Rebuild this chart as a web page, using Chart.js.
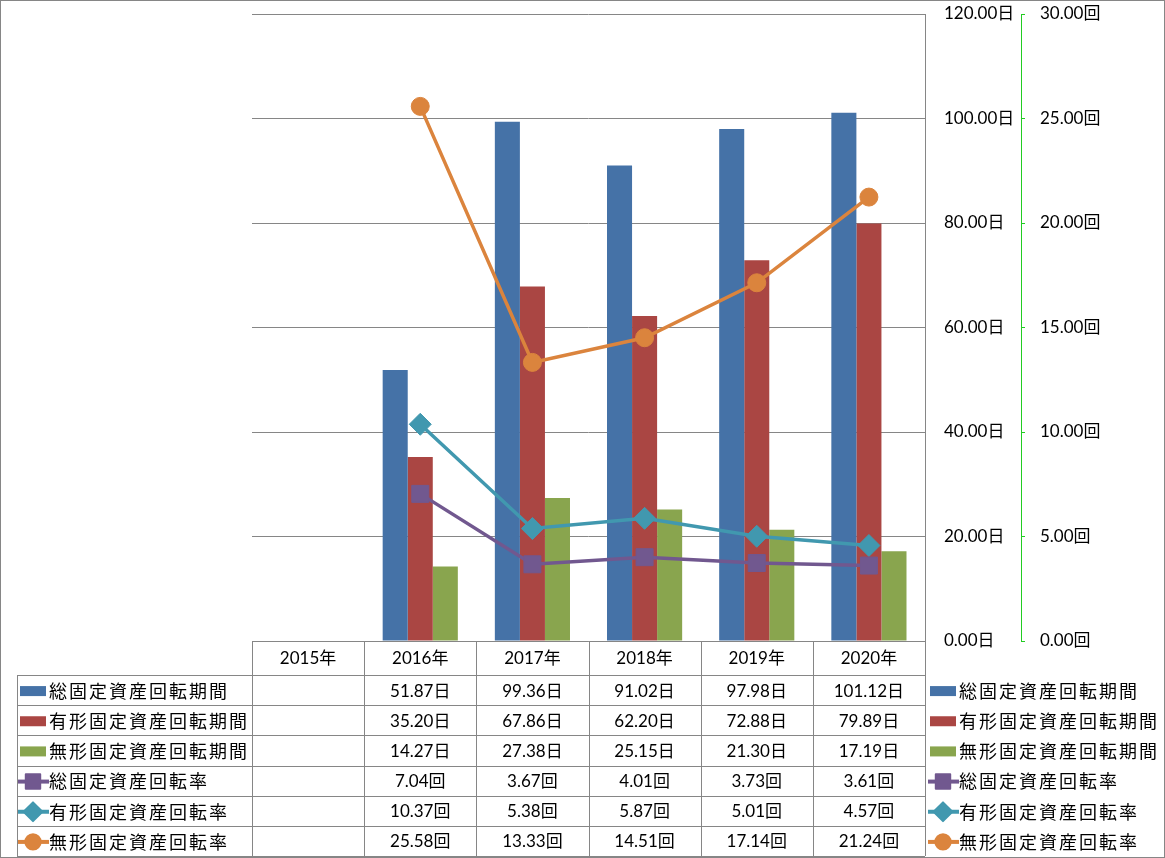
<!DOCTYPE html>
<html>
<head>
<meta charset="utf-8">
<script src="https://cdn.jsdelivr.net/npm/chart.js@4/dist/chart.umd.min.js"></script>
<style>
  html, body { margin: 0; padding: 0; background: #fff; }
  canvas { display: block; }
</style>
</head>
<body>
<canvas id="chart" width="1165" height="858"></canvas>
<script>
// データ
const years = ["2015年", "2016年", "2017年", "2018年", "2019年", "2020年"];
const totalPeriod = [null, 51.87, 99.36, 91.02, 97.98, 101.12];
const tangiblePeriod = [null, 35.2, 67.86, 62.2, 72.88, 79.89];
const intangiblePeriod = [null, 14.27, 27.38, 25.15, 21.3, 17.19];
const totalTurnover = [null, 7.04, 3.67, 4.01, 3.73, 3.61];
const tangibleTurnover = [null, 10.37, 5.38, 5.87, 5.01, 4.57];
const intangibleTurnover = [null, 25.58, 13.33, 14.51, 17.14, 21.24];
const periodTicks = [0, 20, 40, 60, 80, 100, 120];
const turnoverTicks = [0, 5, 10, 15, 20, 25, 30];

const FONT = "Lato, 'Noto Sans CJK JP', sans-serif";
const JP_FONT = "'Noto Sans CJK JP', sans-serif";
const GRID = "#868686";

const series = [
  { label: "総固定資産回転期間", data: totalPeriod, color: "#4572A7", unit: "日", kind: "bar" },
  { label: "有形固定資産回転期間", data: tangiblePeriod, color: "#AA4643", unit: "日", kind: "bar" },
  { label: "無形固定資産回転期間", data: intangiblePeriod, color: "#89A54E", unit: "日", kind: "bar" },
  { label: "総固定資産回転率", data: totalTurnover, color: "#71588F", unit: "回", kind: "line", point: "rect", radius: 12 },
  { label: "有形固定資産回転率", data: tangibleTurnover, color: "#4198AF", unit: "回", kind: "line", point: "rectRot", radius: 11 },
  { label: "無形固定資産回転率", data: intangibleTurnover, color: "#DB843D", unit: "回", kind: "line", point: "circle", radius: 9 },
];

function drawKey(ctx, s, x, y) {
  ctx.save();
  if (s.kind === "bar") {
    ctx.fillStyle = s.color;
    ctx.fillRect(x, y - 5, 26, 10);
  } else {
    ctx.strokeStyle = s.color;
    ctx.lineWidth = 4;
    ctx.beginPath();
    ctx.moveTo(x - 2, y);
    ctx.lineTo(x + 29, y);
    ctx.stroke();
    ctx.fillStyle = s.color;
    ctx.lineJoin = "round";
    ctx.lineWidth = 2;
    Chart.helpers.drawPoint(ctx, { pointStyle: s.point, radius: s.radius * 0.85, borderWidth: 2, rotation: 0 }, x + 13, y);
    ctx.fill();
  }
  ctx.restore();
}

// 表（データテーブル）
const dataTablePlugin = {
  id: "dataTable",
  afterDraw(chart) {
    const ctx = chart.ctx;
    const xs = chart.scales.x;
    const area = chart.chartArea;
    const n = years.length;
    const colW = (xs.right - xs.left) / n;
    const headTop = area.bottom;
    const headBottom = headTop + 34;
    const tableBottom = 856;
    const rowH = (tableBottom - headBottom) / series.length;
    const legendLeft = 17;

    ctx.save();
    ctx.strokeStyle = GRID;
    ctx.lineWidth = 1;
    ctx.beginPath();
    // ヘッダー
    ctx.moveTo(xs.left, headTop + 0.5);
    ctx.lineTo(xs.right, headTop + 0.5);
    for (let i = 0; i <= n; i++) {
      const x = Math.round(xs.left + i * colW) + 0.5;
      ctx.moveTo(x, headTop);
      ctx.lineTo(x, tableBottom);
    }
    for (let r = 0; r <= series.length; r++) {
      const y = Math.round(headBottom + r * rowH) + 0.5;
      ctx.moveTo(legendLeft, y);
      ctx.lineTo(xs.right, y);
    }
    ctx.moveTo(legendLeft + 0.5, headBottom);
    ctx.lineTo(legendLeft + 0.5, tableBottom);
    ctx.stroke();

    ctx.fillStyle = "#000";
    ctx.textBaseline = "middle";
    ctx.textAlign = "center";
    ctx.font = "17px " + FONT;
    years.forEach((yr, i) => {
      ctx.fillText(yr, xs.getPixelForValue(i), (headTop + headBottom) / 2 + 1);
    });

    series.forEach((s, r) => {
      const cy = headBottom + (r + 0.5) * rowH + 1;
      ctx.textAlign = "center";
      ctx.letterSpacing = "0px";
      ctx.font = "17px " + FONT;
      s.data.forEach((v, i) => {
        if (v === null) return;
        ctx.fillText(v.toFixed(2) + s.unit, xs.getPixelForValue(i), cy);
      });
      // 表内の凡例
      drawKey(ctx, s, 20, cy);
      ctx.textAlign = "left";
      ctx.font = "18px " + JP_FONT;
      ctx.letterSpacing = "2px";
      ctx.fillText(s.label, 49, cy);
      // 右側の凡例
      drawKey(ctx, s, 930, cy);
      ctx.fillText(s.label, 959, cy);
    });
    ctx.letterSpacing = "0px";

    // 外枠
    ctx.strokeStyle = GRID;
    ctx.strokeRect(0.5, 0.5, chart.width - 1, chart.height - 1);
    ctx.restore();
  },
};

const datasets = series.map((s) => {
  if (s.kind === "bar") {
    return {
      type: "bar",
      label: s.label,
      data: s.data,
      backgroundColor: s.color,
      yAxisID: "y",
      order: 2,
      categoryPercentage: 0.67,
      barPercentage: 1.0,
    };
  }
  return {
    type: "line",
    label: s.label,
    data: s.data,
    borderColor: s.color,
    backgroundColor: s.color,
    borderWidth: 3.5,
    pointStyle: s.point,
    pointRadius: s.radius,
    pointBorderWidth: 1,
    yAxisID: "y1",
    order: 1,
  };
});

function fixAxis(width) {
  return (axis) => {
    axis.width = width;
    axis.paddingTop = 0;
    axis.paddingBottom = 0;
  };
}

new Chart(document.getElementById("chart").getContext("2d"), {
  data: { labels: years, datasets: datasets },
  plugins: [dataTablePlugin],
  options: {
    responsive: false,
    animation: false,
    layout: { padding: { left: 252, top: 14, right: 0, bottom: 217 } },
    plugins: { legend: { display: false }, tooltip: { enabled: false } },
    scales: {
      x: {
        display: true,
        afterFit: (axis) => {
          axis.height = 0;
          axis.paddingLeft = 0;
          axis.paddingRight = 0;
        },
        grid: { display: false },
        border: { display: false },
        ticks: { display: false },
      },
      y: {
        position: "right",
        min: 0,
        max: 120,
        afterFit: fixAxis(96),
        afterBuildTicks: (axis) => { axis.ticks = periodTicks.map((v) => ({ value: v })); },
        grid: { color: GRID, drawTicks: false },
        border: { color: GRID },
        ticks: {
          padding: 19,
          color: "#000",
          font: { family: FONT, size: 17 },
          callback: (v) => v.toFixed(2) + "日",
        },
      },
      y1: {
        position: "right",
        min: 0,
        max: 30,
        afterFit: fixAxis(144),
        afterBuildTicks: (axis) => { axis.ticks = turnoverTicks.map((v) => ({ value: v })); },
        grid: { drawOnChartArea: false, color: "#22cc22", tickLength: 4 },
        border: { color: "#22cc22", dash: [4, 3] },
        ticks: {
          padding: 15,
          color: "#000",
          font: { family: FONT, size: 17 },
          callback: (v) => v.toFixed(2) + "回",
        },
      },
    },
  },
});
</script>
</body>
</html>
